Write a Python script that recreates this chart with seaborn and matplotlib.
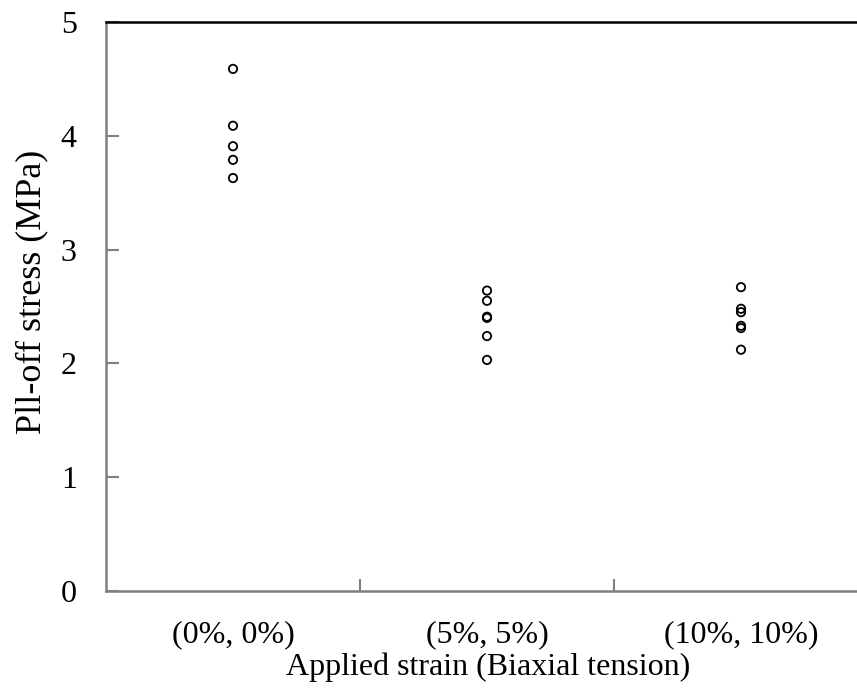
import matplotlib
matplotlib.use("Agg")
import matplotlib.pyplot as plt
import seaborn as sns
import pandas as pd
import numpy as np

categories = ["(0%, 0%)", "(5%, 5%)", "(10%, 10%)"]
stress_0 = [4.59, 4.09, 3.91, 3.79, 3.63]
stress_5 = [2.64, 2.55, 2.41, 2.40, 2.24, 2.03]
stress_10 = [2.67, 2.48, 2.45, 2.33, 2.31, 2.12]
y_ticks = [0, 1, 2, 3, 4, 5]

rows = []
for i, vals in enumerate([stress_0, stress_5, stress_10]):
    for v in vals:
        rows.append({"pos": i, "stress": v})
df = pd.DataFrame(rows)

sns.set_theme(style="white", rc={"text.color": "black", "axes.labelcolor": "black",
                                 "xtick.color": "black", "ytick.color": "black"})
plt.rcParams["font.family"] = ["Liberation Serif", "DejaVu Serif"]

fig = plt.figure(figsize=(8.57, 6.93), dpi=100)
ax = fig.add_axes([106 / 857, 1 - 590.7 / 693, 751 / 857, (590.7 - 22.3) / 693])

sns.scatterplot(data=df, x="pos", y="stress", ax=ax, marker="o", s=36,
                facecolors="none", edgecolor="black", linewidth=1.3, zorder=3)

ax.set_xlim(-0.5, 2.5 - 11 / 254)
ax.set_ylim(0, 5)

grey = "#808080"
ax.spines["left"].set_color(grey)
ax.spines["bottom"].set_color(grey)
ax.spines["left"].set_linewidth(1.8)
ax.spines["bottom"].set_linewidth(1.8)
ax.spines["top"].set_color("black")
ax.spines["top"].set_linewidth(1.8)
ax.spines["right"].set_visible(False)

fs = 23
ax.set_yticks(y_ticks)
ax.set_yticklabels([str(t) for t in y_ticks], fontsize=fs)
ax.tick_params(axis="y", direction="in", length=9, width=1.5, color=grey,
               labelcolor="black", pad=21, left=True)

ax.set_xticks([0, 1, 2])
ax.set_xticklabels(categories, fontsize=fs)
ax.set_xticks([0.5, 1.5], minor=True)
ax.tick_params(axis="x", which="major", length=0, pad=21, labelcolor="black")
ax.tick_params(axis="x", which="minor", direction="in", length=9, width=1.5, color=grey, bottom=True)

ax.set_xlabel("Applied strain (Biaxial tension)", fontsize=fs, color="black")
ax.set_ylabel("Pll-off stress (MPa)", fontsize=26, color="black")
ax.xaxis.set_label_coords((488 - 106) / 751, -0.108)
ax.yaxis.set_label_coords(-0.077, 0.525)

fig.savefig("out.png", dpi=100)
